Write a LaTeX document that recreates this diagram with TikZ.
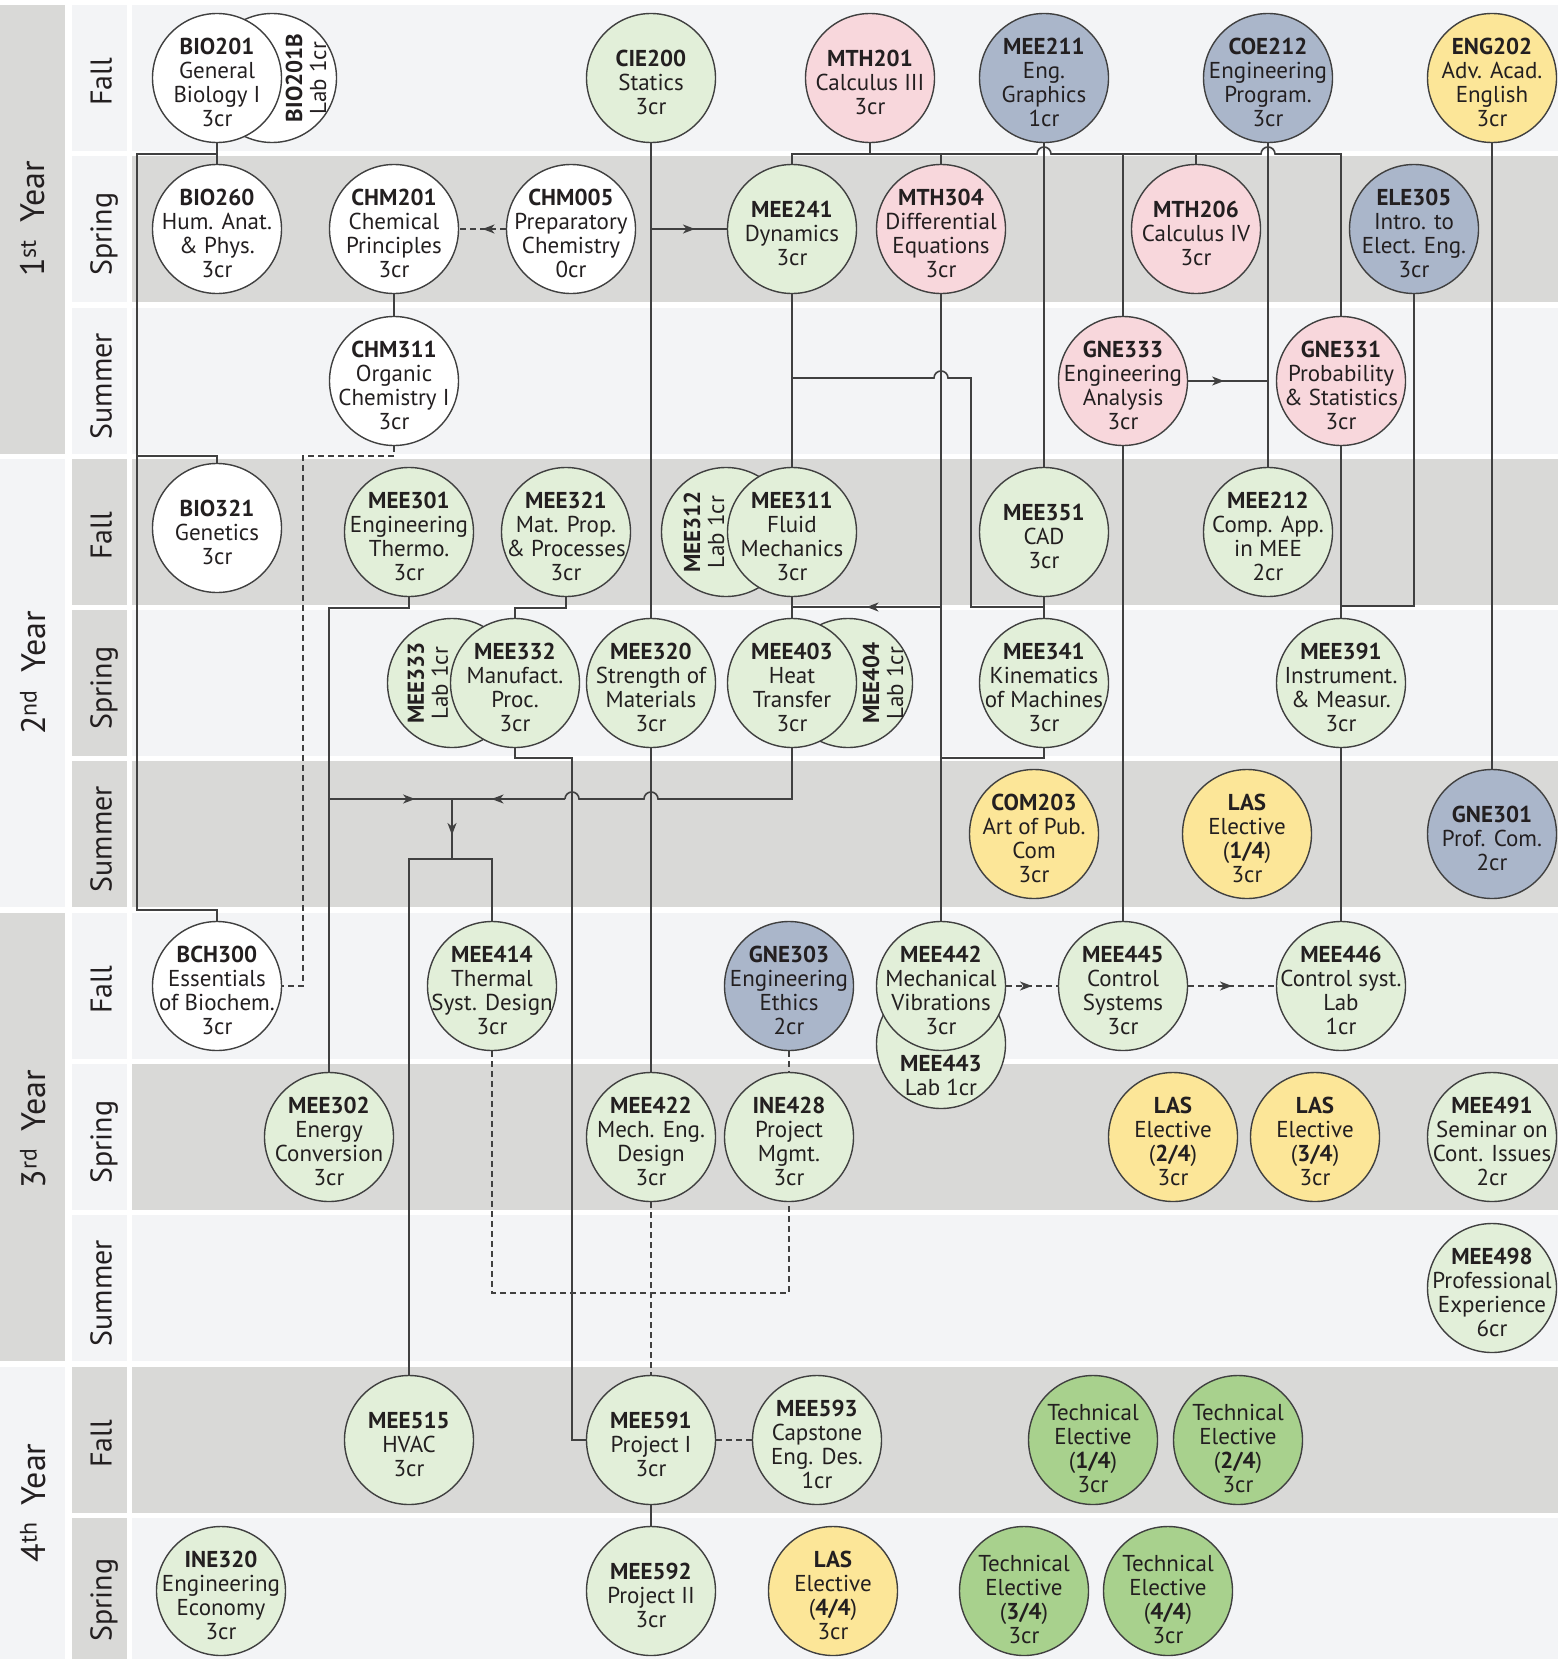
\documentclass[tikz,border=0pt]{standalone}
\usepackage{fontspec}
\setmainfont{PT Sans}
\usetikzlibrary{arrows.meta,decorations.markings}

\definecolor{bandlight}{HTML}{F3F4F6}
\definecolor{bandgray}{HTML}{D9D9D7}
\definecolor{coregreen}{HTML}{E2EFD9}
\definecolor{mathpink}{HTML}{F8D7DC}
\definecolor{engblue}{HTML}{AAB6CA}
\definecolor{libyellow}{HTML}{FCE698}
\definecolor{techgreen}{HTML}{A8D18D}
\definecolor{inkgray}{HTML}{404040}
\definecolor{textblack}{HTML}{231F20}

% course code on the first line, with a strut to push the block down a little
\newcommand{\cid}[1]{\rule{0pt}{26pt}\textbf{#1}}
\newcommand{\tech}{\rule{0pt}{34pt}Technical}

\tikzset{
  course/.style={circle, draw=inkgray, line width=1.4pt, minimum size=129pt, inner sep=-30pt,
    align=center, text=textblack, font=\fontsize{23}{24}\selectfont},
  labtext/.style={rotate=90, align=center, text=textblack, font=\fontsize{23}{24}\selectfont},
  link/.style={draw=inkgray, line width=1.6pt},
  coreq/.style={link, dash pattern=on 6pt off 4pt},
  midarrow/.style={postaction={decorate}, decoration={markings,
    mark=at position #1 with {\arrow{Stealth[length=12pt,width=9pt,inset=3.5pt]}}}},
  midarrow/.default=0.5,
  yearlabel/.style={rotate=90, text=textblack, font=\fontsize{34}{34}\selectfont},
  semlabel/.style={rotate=90, text=textblack, font=\fontsize{30}{30}\selectfont, text height=21pt, text depth=6pt}
}

\begin{document}
\begin{tikzpicture}[x=1pt,y=-1pt]
\useasboundingbox (0,0) rectangle (1558,1659);
\fill[white] (0,0) rectangle (1558,1659);

% year column
\fill[bandgray] (0,5) rectangle (65,454);
\fill[bandlight] (0,459) rectangle (65,907);
\fill[bandgray] (0,913) rectangle (65,1361);
\fill[bandlight] (0,1367) rectangle (65,1659);

% semester column
\fill[bandlight] (72,5) rectangle (127,151);
\fill[bandlight] (72,156) rectangle (127,302);
\fill[bandlight] (72,308) rectangle (127,454);
\fill[bandgray] (72,459) rectangle (127,605);
\fill[bandgray] (72,610) rectangle (127,756);
\fill[bandgray] (72,761) rectangle (127,907);
\fill[bandlight] (72,913) rectangle (127,1059);
\fill[bandlight] (72,1064) rectangle (127,1210);
\fill[bandlight] (72,1215) rectangle (127,1361);
\fill[bandgray] (72,1367) rectangle (127,1513);
\fill[bandgray] (72,1518) rectangle (127,1659);

% semester rows
\fill[bandlight] (132,5) rectangle (1558,151);
\fill[bandgray] (132,156) rectangle (1558,302);
\fill[bandlight] (132,308) rectangle (1558,454);
\fill[bandgray] (132,459) rectangle (1558,605);
\fill[bandlight] (132,610) rectangle (1558,756);
\fill[bandgray] (132,761) rectangle (1558,907);
\fill[bandlight] (132,913) rectangle (1558,1059);
\fill[bandgray] (132,1064) rectangle (1558,1210);
\fill[bandlight] (132,1215) rectangle (1558,1361);
\fill[bandgray] (132,1367) rectangle (1558,1513);
\fill[bandlight] (132,1518) rectangle (1558,1659);

\node[yearlabel] (year1) at (33,219) {1\textsuperscript{st}\hspace{0.5em}Year};
\node[yearlabel] (year2) at (33,673) {2\textsuperscript{nd}\hspace{0.5em}Year};
\node[yearlabel] (year3) at (33,1129) {3\textsuperscript{rd}\hspace{0.5em}Year};
\node[yearlabel] (year4) at (33,1503) {4\textsuperscript{th}\hspace{0.5em}Year};

\node[semlabel] (sem1) at (104,82) {Fall};
\node[semlabel] (sem2) at (104,234) {Spring};
\node[semlabel] (sem3) at (104,386) {Summer};
\node[semlabel] (sem4) at (104,536) {Fall};
\node[semlabel] (sem5) at (104,688) {Spring};
\node[semlabel] (sem6) at (104,839) {Summer};
\node[semlabel] (sem7) at (104,990) {Fall};
\node[semlabel] (sem8) at (104,1142) {Spring};
\node[semlabel] (sem9) at (104,1293) {Summer};
\node[semlabel] (sem10) at (104,1444) {Fall};
\node[semlabel] (sem11) at (104,1600) {Spring};

% 1st year, fall
\node[course, fill=white] (bio201b) at (272,78) {};
\node[course, fill=white] (bio201) at (217,78) {\cid{BIO201}\\General\\Biology I\\3cr};
\node[labtext] (bio201b-t) at (306,78) {\textbf{BIO201B}\\Lab 1cr};
\node[course, fill=coregreen] (cie200) at (651,78) {\cid{CIE200}\\Statics\\3cr};
\node[course, fill=mathpink] (mth201) at (870,78) {\cid{MTH201}\\Calculus III\\3cr};
\node[course, fill=engblue] (mee211) at (1044,78) {\cid{MEE211}\\Eng.\\Graphics\\1cr};
\node[course, fill=engblue] (coe212) at (1268,78) {\cid{COE212}\\Engineering\\Program.\\3cr};
\node[course, fill=libyellow] (eng202) at (1492,78) {\cid{ENG202}\\Adv. Acad.\\English\\3cr};

% 1st year, spring
\node[course, fill=white] (bio260) at (217,229) {\cid{BIO260}\\Hum. Anat.\\\& Phys.\\3cr};
\node[course, fill=white] (chm201) at (394,229) {\cid{CHM201}\\Chemical\\Principles\\3cr};
\node[course, fill=white] (chm005) at (571,229) {\cid{CHM005}\\Preparatory\\Chemistry\\0cr};
\node[course, fill=coregreen] (mee241) at (792,229) {\cid{MEE241}\\Dynamics\\3cr};
\node[course, fill=mathpink] (mth304) at (941,229) {\cid{MTH304}\\Differential\\Equations\\3cr};
\node[course, fill=mathpink] (mth206) at (1196,229) {\cid{MTH206}\\Calculus IV\\3cr};
\node[course, fill=engblue] (ele305) at (1414,229) {\cid{ELE305}\\Intro. to\\Elect. Eng.\\3cr};

% 1st year, summer
\node[course, fill=white] (chm311) at (394,381) {\cid{CHM311}\\Organic\\Chemistry I\\3cr};
\node[course, fill=mathpink] (gne333) at (1123,381) {\cid{GNE333}\\Engineering\\Analysis\\3cr};
\node[course, fill=mathpink] (gne331) at (1341,381) {\cid{GNE331}\\Probability\\\& Statistics\\3cr};

% 2nd year, fall
\node[course, fill=white] (bio321) at (217,528) {\cid{BIO321}\\Genetics\\3cr};
\node[course, fill=coregreen] (mee301) at (409,532) {\cid{MEE301}\\Engineering\\Thermo.\\3cr};
\node[course, fill=coregreen] (mee321) at (566,532) {\cid{MEE321}\\Mat. Prop.\\\& Processes\\3cr};
\node[course, fill=coregreen] (mee312) at (726,532) {};
\node[course, fill=coregreen] (mee311) at (792,532) {\cid{MEE311}\\Fluid\\Mechanics\\3cr};
\node[labtext] (mee312-t) at (704,532) {\textbf{MEE312}\\Lab 1cr};
\node[course, fill=coregreen] (mee351) at (1044,532) {\cid{MEE351}\\CAD\\3cr};
\node[course, fill=coregreen] (mee212) at (1268,532) {\cid{MEE212}\\Comp. App.\\in MEE\\2cr};

% 2nd year, spring
\node[course, fill=coregreen] (mee333) at (452,683) {};
\node[course, fill=coregreen] (mee332) at (515,683) {\cid{MEE332}\\Manufact.\\Proc.\\3cr};
\node[labtext] (mee333-t) at (428,683) {\textbf{MEE333}\\Lab 1cr};
\node[course, fill=coregreen] (mee320) at (651,683) {\cid{MEE320}\\Strength of\\Materials\\3cr};
\node[course, fill=coregreen] (mee404) at (848,683) {};
\node[course, fill=coregreen] (mee403) at (792,683) {\cid{MEE403}\\Heat\\Transfer\\3cr};
\node[labtext] (mee404-t) at (883,683) {\textbf{MEE404}\\Lab 1cr};
\node[course, fill=coregreen] (mee341) at (1044,683) {\cid{MEE341}\\Kinematics\\of Machines\\3cr};
\node[course, fill=coregreen] (mee391) at (1341,683) {\cid{MEE391}\\Instrument.\\\& Measur.\\3cr};

% 2nd year, summer
\node[course, fill=libyellow] (com203) at (1034,834) {\cid{COM203}\\Art of Pub.\\Com\\3cr};
\node[course, fill=libyellow] (las1) at (1247,834) {\cid{LAS}\\Elective\\(\textbf{1/4})\\3cr};
\node[course, fill=engblue] (gne301) at (1492,834) {\cid{GNE301}\\Prof. Com.\\2cr};

% 3rd year, fall
\node[course, fill=white] (bch300) at (217,986) {\cid{BCH300}\\Essentials\\of Biochem.\\3cr};
\node[course, fill=coregreen] (mee414) at (492,986) {\cid{MEE414}\\Thermal\\Syst. Design\\3cr};
\node[course, fill=engblue] (gne303) at (789,986) {\cid{GNE303}\\Engineering\\Ethics\\2cr};
\node[course, fill=coregreen] (mee443) at (941,1044) {};
\node[course, fill=coregreen] (mee442) at (941,986) {\cid{MEE442}\\Mechanical\\Vibrations\\3cr};
\node[align=center, text=textblack, font=\fontsize{23}{24}\selectfont] (mee443-t) at (941,1076) {\textbf{MEE443}\\Lab 1cr};
\node[course, fill=coregreen] (mee445) at (1123,986) {\cid{MEE445}\\Control\\Systems\\3cr};
\node[course, fill=coregreen] (mee446) at (1341,986) {\cid{MEE446}\\Control syst.\\Lab\\1cr};

% 3rd year, spring
\node[course, fill=coregreen] (mee302) at (329,1137) {\cid{MEE302}\\Energy\\Conversion\\3cr};
\node[course, fill=coregreen] (mee422) at (651,1137) {\cid{MEE422}\\Mech. Eng.\\Design\\3cr};
\node[course, fill=coregreen] (ine428) at (789,1137) {\cid{INE428}\\Project\\Mgmt.\\3cr};
\node[course, fill=libyellow] (las2) at (1173,1137) {\cid{LAS}\\Elective\\(\textbf{2/4})\\3cr};
\node[course, fill=libyellow] (las3) at (1315,1137) {\cid{LAS}\\Elective\\(\textbf{3/4})\\3cr};
\node[course, fill=coregreen] (mee491) at (1492,1137) {\cid{MEE491}\\Seminar on\\Cont. Issues\\2cr};

% 3rd year, summer
\node[course, fill=coregreen] (mee498) at (1492,1288) {\cid{MEE498}\\Professional\\Experience\\6cr};

% 4th year, fall
\node[course, fill=coregreen] (mee515) at (409,1440) {\cid{MEE515}\\HVAC\\3cr};
\node[course, fill=coregreen] (mee591) at (651,1440) {\cid{MEE591}\\Project I\\3cr};
\node[course, fill=coregreen] (mee593) at (817,1440) {\cid{MEE593}\\Capstone\\Eng. Des.\\1cr};
\node[course, fill=techgreen] (te1) at (1093,1440) {\tech\\Elective\\(\textbf{1/4})\\3cr};
\node[course, fill=techgreen] (te2) at (1238,1440) {\tech\\Elective\\(\textbf{2/4})\\3cr};

% 4th year, spring
\node[course, fill=coregreen] (ine320) at (221,1591) {\cid{INE320}\\Engineering\\Economy\\3cr};
\node[course, fill=coregreen] (mee592) at (651,1591) {\cid{MEE592}\\Project II\\3cr};
\node[course, fill=libyellow] (las4) at (833,1591) {\cid{LAS}\\Elective\\(\textbf{4/4})\\3cr};
\node[course, fill=techgreen] (te3) at (1024,1591) {\tech\\Elective\\(\textbf{3/4})\\3cr};
\node[course, fill=techgreen] (te4) at (1168,1591) {\tech\\Elective\\(\textbf{4/4})\\3cr};

% junctions
\coordinate (bio-j) at (217,154);
\coordinate (bio-a) at (137,154);
\coordinate (bio-b) at (137,456);
\coordinate (bio-c) at (137,910);
\coordinate (chm-d) at (303,456);
\coordinate (cie-j) at (651,229);
\coordinate (bus-m) at (870,154);
\coordinate (gne-j) at (1268,381);
\coordinate (ele-j) at (1341,606);
\coordinate (dyn-j) at (792,378);
\coordinate (kin-j) at (1044,607);
\coordinate (ht-j) at (792,607);
\coordinate (de-j) at (941,607);
\coordinate (vib-j) at (941,758);
\coordinate (th-a) at (329,608);
\coordinate (th-b) at (329,799);
\coordinate (sum-j) at (452,799);
\coordinate (hop-end) at (565,799);
\coordinate (sum-k) at (452,859);
\coordinate (mp-j) at (515,608);
\coordinate (mf-j) at (572,758);
\coordinate (des-j) at (789,1293);

% prerequisites
\draw[link] (bio201) -- (bio260);
\draw[link] (bio-j) -- (bio-a) -- (bio-c) -| (bch300.north);
\draw[link] (bio-b) -| (bio321.north);
\draw[coreq, midarrow] (chm005) -- (chm201);
\draw[link] (chm201) -- (chm311);
\draw[coreq] (chm311.south) |- (chm-d) |- (bch300.east);

\draw[link] (cie200) -- (mee320);
\draw[link, midarrow=0.58] (cie-j) -- (mee241);
\draw[link] (mee320) -- (mee422);

\draw[link] (mth201.south) -- (bus-m);
\draw[link] (mee241.north) |- (1037,154) arc[start angle=180, end angle=0, radius=7pt]
  -- (1261,154) arc[start angle=180, end angle=0, radius=7pt] -| (gne331.north);
\draw[link] (mth304.north) -- (mth304.north |- bus-m);
\draw[link] (mth206.north) -- (mth206.north |- bus-m);
\draw[link] (gne333.north) -- (gne333.north |- bus-m);

\draw[link] (mee211) -- (mee351);
\draw[link] (mee351) -- (mee341);
\draw[link] (coe212) -- (mee212);
\draw[link, midarrow=0.45] (gne333) -- (gne-j);
\draw[link] (gne331) -- (mee391);
\draw[link] (ele305.south) |- (ele-j);
\draw[link] (mee391) -- (mee446);
\draw[link] (gne333) -- (mee445);
\draw[link] (eng202) -- (gne301);

\draw[link] (mee241) -- (mee311);
\draw[link] (dyn-j) -- (934,378) arc[start angle=180, end angle=0, radius=7pt] -- (971,378) |- (kin-j);
\draw[link] (mth304) -- (mee442);
\draw[link, midarrow] (de-j) -- (ht-j);
\draw[link] (mee311) -- (mee403);
\draw[link] (mee341.south) |- (vib-j);

\draw[link] (mee301.south) |- (th-a) -- (mee302.north);
\draw[link, midarrow=0.7] (th-b) -- (sum-j);
\draw[link] (mee403.south) |- (658,799) arc[start angle=0, end angle=180, radius=7pt]
  -- (579,799) arc[start angle=0, end angle=180, radius=7pt] -- (hop-end);
\draw[link, midarrow=0.65] (hop-end) -- (sum-j);
\draw[link, midarrow=0.6] (sum-j) -- (sum-k);
\draw[link] (mee515.north) |- (sum-k);
\draw[link] (mee414.north) |- (sum-k);

\draw[link] (mee321.south) |- (mp-j) -- (mee332.north);
\draw[link] (mee332.south) |- (mf-j) |- (mee591.west);

% co-requisites
\draw[coreq] (mee414.south) |- (des-j) -- (ine428.south);
\draw[coreq] (mee422) -- (mee591);
\draw[coreq] (gne303) -- (ine428);
\draw[coreq] (mee591) -- (mee593);
\draw[link] (mee591) -- (mee592);
\draw[coreq, midarrow] (mee442) -- (mee445);
\draw[coreq, midarrow] (mee445) -- (mee446);
\end{tikzpicture}
\end{document}
